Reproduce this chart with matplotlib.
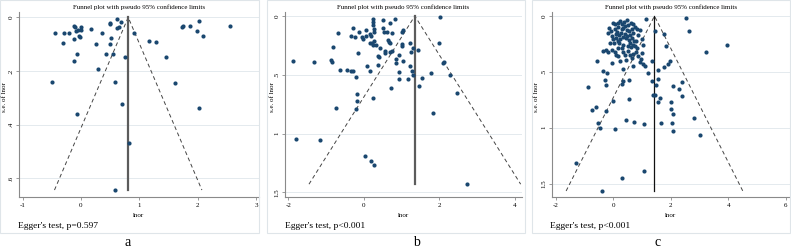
import matplotlib
matplotlib.use('Agg')
import matplotlib.pyplot as plt
from matplotlib.patches import Rectangle

plt.rcParams['font.family'] = ['Liberation Serif', 'DejaVu Serif']

# panel a
a_lnor = [-0.45, -0.30, -0.29, -0.20, -0.12, -0.10, -0.09, -0.12, -0.07, -0.12,
          -0.05, -0.03, -0.02, 0.00, 0.00, 0.18, 0.36, 0.26, 0.29, 0.43,
          0.50, 0.50, 0.51, 0.50, 0.55, 0.61, 0.61, 0.65, 0.69, 0.75,
          0.91, 0.59, 0.70, -0.06, -0.50, 0.82, 0.58, 1.17, 1.29, 1.46,
          1.62, 1.73, 1.75, 1.86, 1.98, 2.02, 2.09, 2.02, 2.56]
a_se = [0.057, 0.096, 0.058, 0.057, 0.031, 0.037, 0.049, 0.080, 0.137, 0.163,
        0.046, 0.070, 0.074, 0.037, 0.046, 0.044, 0.060, 0.099, 0.191, 0.137,
        0.020, 0.025, 0.077, 0.100, 0.135, 0.007, 0.040, 0.037, 0.017, 0.148,
        0.057, 0.241, 0.323, 0.360, 0.241, 0.469, 0.644, 0.090, 0.093, 0.148,
        0.246, 0.035, 0.033, 0.032, 0.052, 0.015, 0.069, 0.337, 0.031]

# panel b
b_lnor = [-1.87, -1.32, -0.88, -0.84, -0.81, -0.68, -0.63, -0.46, -0.35, -0.28,
          -0.20, -0.35, -0.28, -0.24, -0.12, -0.15, -0.04, -0.02, 0.06, 0.06,
          0.07, 0.16, 0.16, 0.19, 0.16, 0.22, 0.23, 0.24, 0.25, 0.25,
          0.26, 0.26, 0.26, 0.33, 0.37, 0.39, 0.37, 0.44, 0.51, 0.51,
          0.53, 0.60, 0.57, 0.56, 0.63, 0.66, 0.70, 0.70, 0.69, 0.75,
          0.75, 0.82, 0.86, 0.84, 0.93, 1.00, 1.04, 1.00, 1.01, 1.04,
          0.93, 0.93, 1.17, 1.21, 1.25, 1.30, 1.21, 1.27, 1.29, 1.44,
          1.53, 1.46, 1.79, 1.99, 2.01, 2.09, 2.29, 2.46, 1.82, 0.71,
          0.24, -0.19, -0.17, -0.20, -0.75, -1.81, -1.16, 0.04, 0.18, 0.28,
          2.73, 2.12]
b_se = [0.380, 0.394, 0.371, 0.389, 0.266, 0.143, 0.457, 0.463, 0.471, 0.471,
        0.520, 0.171, 0.100, 0.180, 0.134, 0.314, 0.177, 0.194, 0.123, 0.171,
        0.429, 0.471, 0.157, 0.171, 0.229, 0.229, 0.251, 0.029, 0.051, 0.077,
        0.109, 0.134, 0.211, 0.243, 0.337, 0.346, 0.420, 0.271, 0.034, 0.106,
        0.134, 0.134, 0.314, 0.300, 0.206, 0.223, 0.057, 0.234, 0.306, 0.300,
        0.143, 0.023, 0.400, 0.366, 0.329, 0.137, 0.123, 0.237, 0.257, 0.380,
        0.480, 0.537, 0.537, 0.229, 0.306, 0.271, 0.429, 0.471, 0.500, 0.286,
        0.526, 0.597, 0.483, 0.231, 0.009, 0.400, 0.506, 0.651, 0.829, 0.614,
        0.700, 0.666, 0.720, 0.791, 0.780, 1.043, 1.051, 1.191, 1.234, 1.266,
        1.431, 0.390]

# panel c
c_lnor = [1.13, -0.02, 0.23, 0.29, 0.46, 0.60, 0.69, 0.40, 0.17, -0.14,
          -0.17, -0.09, 0.06, 0.12, 0.29, 0.35, 0.46, 0.55, 0.64, 0.69,
          0.81, 0.92, 0.87, 0.98, -0.06, 0.00, 0.09, 0.17, 0.25, 0.35,
          0.40, 0.49, 0.55, 0.64, 0.72, 0.58, 0.67, 0.75, 0.52, 0.35,
          0.21, 0.02, -0.12, 1.04, -0.35, -0.25, -0.17, 0.06, 0.09, 0.35,
          0.58, 0.69, 0.79, 0.87, 0.64, 0.44, 0.23, -0.06, -0.55, 0.95,
          0.92, 1.04, 1.10, 1.21, 0.69, 0.32, -0.35, -0.23, -0.29, -0.25,
          0.35, 0.55,
          0.05, 0.15, 0.38, 0.52, 0.75, 0.10, 0.20, 0.45, 0.62, 0.30,
          0.50, 0.80, 0.15, -0.05, 0.27, 0.57, 0.84, 0.40, 0.18, 1.00,
          1.45, 1.77, 1.84, 2.54, 2.64, 3.94, 3.21, 1.35, 1.98, 1.91,
          1.77, 1.55, 1.34, 1.55, 1.49, 2.07, 2.29, 2.40, 2.37, 1.38,
          1.46, 1.63, 1.55, 2.00, 2.02, 2.07, 2.82, 1.65, 2.05, 2.07,
          3.02, 1.08, 0.71, 0.45, 0.56, 0.29, 0.00, 0.07, -0.45, -0.53,
          -0.75, -0.60, -0.24, -0.87, -1.28, 1.08, 0.30, -0.38]
c_se = [0.024, 0.060, 0.045, 0.075, 0.039, 0.066, 0.075, 0.090, 0.096, 0.105,
        0.150, 0.135, 0.120, 0.144, 0.120, 0.105, 0.126, 0.135, 0.114, 0.156,
        0.120, 0.126, 0.174, 0.210, 0.180, 0.210, 0.195, 0.225, 0.204, 0.186,
        0.165, 0.180, 0.216, 0.195, 0.225, 0.240, 0.255, 0.270, 0.270, 0.255,
        0.240, 0.240, 0.240, 0.255, 0.315, 0.300, 0.324, 0.324, 0.345, 0.324,
        0.345, 0.336, 0.324, 0.354, 0.375, 0.390, 0.405, 0.420, 0.405, 0.384,
        0.414, 0.426, 0.450, 0.510, 0.450, 0.474, 0.495, 0.510, 0.570, 0.615,
        0.585, 0.570,
        0.070, 0.060, 0.050, 0.080, 0.100, 0.160, 0.170, 0.200, 0.280, 0.290,
        0.310, 0.220, 0.290, 0.300, 0.150, 0.170, 0.290, 0.350, 0.360, 0.330,
        0.135, 0.165, 0.270, 0.015, 0.135, 0.255, 0.320, 0.405, 0.405, 0.426,
        0.460, 0.480, 0.580, 0.564, 0.615, 0.624, 0.654, 0.588, 0.714, 0.710,
        0.710, 0.730, 0.768, 0.770, 0.834, 0.876, 0.915, 0.954, 0.954, 1.030,
        1.065, 0.970, 0.950, 0.933, 0.744, 0.612, 0.762, 1.010, 1.000, 0.960,
        0.840, 0.810, 0.852, 0.633, 1.320, 1.389, 1.450, 1.566]

W, H = 791, 248
fig = plt.figure(figsize=(W / 100, H / 100), dpi=100)

panels = [
    dict(x=a_lnor, y=a_se, theta=0.81, xlim=(-1.06, 3.05), ylim=(0.67, -0.02),
         xt=[-1, 0, 1, 2, 3], yt=[0, .2, .4, .6], ytl=['0', '.2', '.4', '.6'],
         box=(0, 259), ax=(19, 259), egg="Egger's test, p=0.597", tag='a', tagx=128,
         vc='#5c5c5c', vlw=1.6),
    dict(x=b_lnor, y=b_se, theta=1.35, xlim=(-2.09, 4.19), ylim=(1.54, -0.034),
         xt=[-2, 0, 2, 4], yt=[0, .5, 1, 1.5], ytl=['0', '.5', '1', '1.5'],
         box=(267, 525), ax=(285, 522), egg="Egger's test, p<0.001", tag='b', tagx=416,
         vc='#5c5c5c', vlw=1.6),
    dict(x=c_lnor, y=c_se, theta=1.43, xlim=(-2.13, 6.14), ylim=(1.62, -0.036),
         xt=[-2, 0, 2, 4, 6], yt=[0, .5, 1, 1.5], ytl=['0', '.5', '1', '1.5'],
         box=(532, 790), ax=(552, 790), egg="Egger's test, p<0.001", tag='c', tagx=658,
         vc='#111111', vlw=0.9),
]

top, bot = 12, 197
for p in panels:
    x0, x1 = p['box']
    fig.add_artist(Rectangle((x0 / W, 1 - 233 / H), (x1 - x0) / W, 233 / H,
                             transform=fig.transFigure, fill=False,
                             ec='#dfe5e9', lw=0.8))
    l, r = p['ax']
    ax = fig.add_axes([l / W, 1 - bot / H, (r - l) / W, (bot - top) / H])
    ax.set_xlim(*p['xlim'])
    ax.set_ylim(*p['ylim'])
    ax.set_xticks(p['xt'])
    ax.set_xticklabels([str(v) for v in p['xt']])
    ax.set_yticks(p['yt'])
    ax.set_yticklabels(p['ytl'], rotation=90, va='center')
    ax.yaxis.grid(True, color='#e4eaee', lw=0.7)
    ax.set_axisbelow(True)
    for s in ['top', 'right']:
        ax.spines[s].set_visible(False)
    for s in ['left', 'bottom']:
        ax.spines[s].set_color('#8a8a8a')
        ax.spines[s].set_linewidth(0.8)
    ax.tick_params(labelsize=5, length=2.5, width=0.6, color='#8a8a8a', pad=1.5)

    semax = max(p['y'])
    th = p['theta']
    ax.plot([th - 1.96 * semax, th, th + 1.96 * semax], [semax, 0, semax],
            ls=(0, (4, 3)), color='#444444', lw=0.7, zorder=2)
    ax.plot([th, th], [0, semax], color=p['vc'], lw=p['vlw'], zorder=2)
    ax.scatter(p['x'], p['y'], s=9, color='#1a476f', linewidths=0, zorder=3)

    ax.set_title('Funnel plot with pseudo 95% confidence limits', fontsize=5, pad=2.5)
    ax.set_xlabel('lnor', fontsize=5)
    ax.xaxis.set_label_coords(0.5, -(213 - bot) / (bot - top))

    fig.text((x0 + 5) / W, 1 - 97 / H, 's.e. of lnor', fontsize=5, rotation=90,
             ha='center', va='center')
    fig.text((x0 + 18) / W, 1 - 226 / H, p['egg'], fontsize=6.8, va='center')
    fig.text(p['tagx'] / W, 1 - 242 / H, p['tag'], fontsize=10, ha='center', va='center')

fig.savefig('out.png', dpi=100)
